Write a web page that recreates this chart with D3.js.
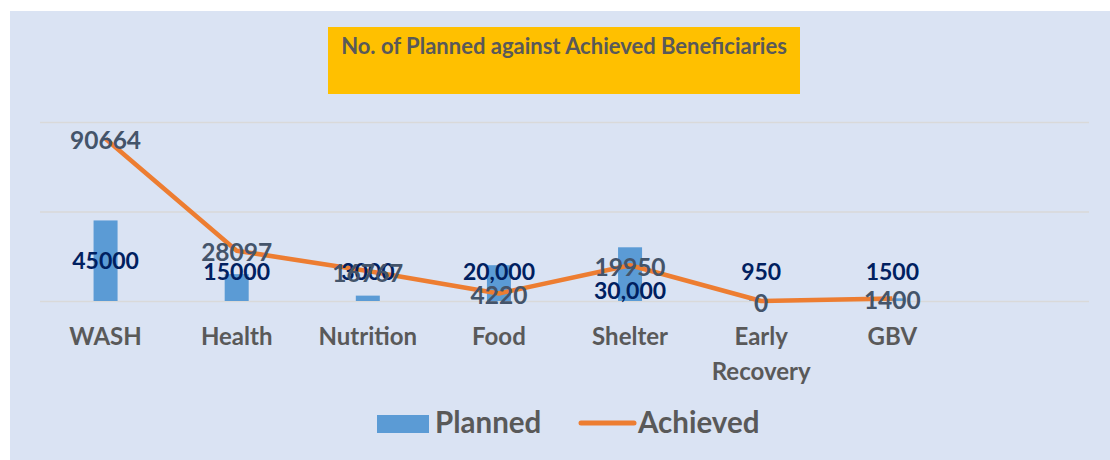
<!DOCTYPE html>
<html>
<head>
<meta charset="utf-8">
<script src="https://cdn.jsdelivr.net/npm/d3@7"></script>
<style>
  html, body { margin: 0; padding: 0; background: #ffffff; }
  svg { display: block; font-family: Lato, "Open Sans", sans-serif; }
</style>
</head>
<body>
<div id="chart"></div>
<script>
// Chart data
const categories = ['WASH', 'Health', 'Nutrition', 'Food', 'Shelter', 'Early Recovery', 'GBV', ''];
const planned = [45000, 15000, 3000, 20000, 30000, 950, 1500];
const plannedLabels = ['45000', '15000', '3000', '20,000', '30,000', '950', '1500'];
const achieved = [90664, 28097, 16767, 4220, 19950, 0, 1400];
const yTicks = [0, 50000, 100000];
const title = 'No. of Planned against Achieved Beneficiaries';

const W = 1110, H = 460;
const margin = {top: 122, left: 40, right: 21, bottom: 159};

const svg = d3.select('#chart').append('svg')
    .attr('width', W)
    .attr('height', H);

// Background panel
svg.append('rect')
    .attr('x', 10).attr('y', 11)
    .attr('width', W - 10).attr('height', H - 11)
    .attr('fill', '#dae3f3');

// Title box
const tg = svg.append('g').attr('transform', 'translate(328,27)');
tg.append('rect')
    .attr('width', 472).attr('height', 67)
    .attr('fill', '#ffc000');
tg.append('text')
    .attr('x', 236).attr('y', 27)
    .attr('text-anchor', 'middle')
    .attr('font-size', 22)
    .attr('font-weight', 'bold')
    .attr('fill', '#595959')
    .text(title);

const plotW = W - margin.left - margin.right;
const plotH = H - margin.top - margin.bottom;

const x = d3.scaleBand()
    .domain(categories)
    .range([margin.left, margin.left + plotW])
    .padding(0);

const y = d3.scaleLinear()
    .domain([0, 100000])
    .range([margin.top + plotH, margin.top]);

// Gridlines
svg.append('g')
    .attr('transform', `translate(${margin.left},0)`)
    .call(d3.axisLeft(y).tickValues(yTicks).tickSize(-plotW).tickFormat(''))
    .call(g => g.select('.domain').remove())
    .call(g => g.selectAll('.tick line').attr('stroke', '#d9d9d9').attr('stroke-width', 1.5));

// Planned bars
const barW = 24;
svg.append('g').selectAll('rect')
    .data(planned)
    .join('rect')
    .attr('x', (d, i) => x(categories[i]) + x.bandwidth() / 2 - barW / 2)
    .attr('y', d => y(d))
    .attr('width', barW)
    .attr('height', d => y(0) - y(d))
    .attr('fill', '#5b9bd5');

// Achieved line
const line = d3.line()
    .x((d, i) => x(categories[i]) + x.bandwidth() / 2)
    .y(d => y(d));

svg.append('path')
    .datum(achieved)
    .attr('fill', 'none')
    .attr('stroke', '#ed7d31')
    .attr('stroke-width', 4.5)
    .attr('stroke-linejoin', 'round')
    .attr('d', line);

// Planned data labels
function plannedLabelY(d, i) {
  const mid = (y(d) + y(0)) / 2;
  let ly = Math.min(mid, y(0) - 29);
  const py = y(achieved[i]);
  // push below the achieved label when the point sits inside the bar
  if (py > y(d) && py < y(0) && Math.abs(py - ly) < 15) ly = py + 26;
  return ly;
}

svg.append('g').selectAll('text')
    .data(planned)
    .join('text')
    .attr('x', (d, i) => x(categories[i]) + x.bandwidth() / 2)
    .attr('y', (d, i) => plannedLabelY(d, i))
    .attr('dy', '0.35em')
    .attr('text-anchor', 'middle')
    .attr('font-size', 23)
    .attr('font-weight', 'bold')
    .attr('fill', '#002060')
    .text((d, i) => plannedLabels[i]);

// Achieved data labels
svg.append('g').selectAll('text')
    .data(achieved)
    .join('text')
    .attr('x', (d, i) => x(categories[i]) + x.bandwidth() / 2)
    .attr('y', d => y(d) + 2)
    .attr('dy', '0.35em')
    .attr('text-anchor', 'middle')
    .attr('font-size', 24.5)
    .attr('font-weight', 'bold')
    .attr('fill', '#44546a')
    .text(d => d);

// Category axis labels
const xl = svg.append('g').selectAll('text')
    .data(categories)
    .join('text')
    .attr('x', d => x(d) + x.bandwidth() / 2)
    .attr('y', 337)
    .attr('text-anchor', 'middle')
    .attr('font-size', 24)
    .attr('font-weight', 'bold')
    .attr('fill', '#595959');

xl.each(function(d) {
  const words = d.split(' ');
  const t = d3.select(this);
  words.forEach((w, k) => {
    t.append('tspan')
        .attr('x', x(d) + x.bandwidth() / 2)
        .attr('dy', k === 0 ? '0.35em' : '1.45em')
        .text(w);
  });
});

// Legend
const lg = svg.append('g');
lg.append('rect')
    .attr('x', 377).attr('y', 415)
    .attr('width', 52).attr('height', 18)
    .attr('fill', '#5b9bd5');
lg.append('text')
    .attr('x', 435).attr('y', 423)
    .attr('dy', '0.35em')
    .attr('font-size', 29.5)
    .attr('font-weight', 'bold')
    .attr('fill', '#595959')
    .text('Planned');
lg.append('line')
    .attr('x1', 581).attr('x2', 634)
    .attr('y1', 423).attr('y2', 423)
    .attr('stroke', '#ed7d31')
    .attr('stroke-width', 5)
    .attr('stroke-linecap', 'round');
lg.append('text')
    .attr('x', 638).attr('y', 423)
    .attr('dy', '0.35em')
    .attr('font-size', 29.5)
    .attr('font-weight', 'bold')
    .attr('fill', '#595959')
    .text('Achieved');
</script>
</body>
</html>
